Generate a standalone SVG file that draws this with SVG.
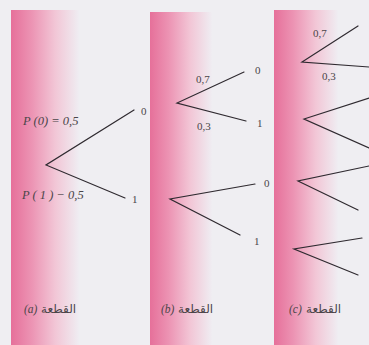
<svg xmlns="http://www.w3.org/2000/svg" width="369" height="345" viewBox="0 0 369 345">
  <defs>
    <linearGradient id="pink" x1="0" y1="0" x2="1" y2="0">
      <stop offset="0" stop-color="#e6709a"/>
      <stop offset="0.3" stop-color="#ec93b3"/>
      <stop offset="0.65" stop-color="#f2c6d6"/>
      <stop offset="1" stop-color="#efedf2"/>
    </linearGradient>
    <style>
      .strip { fill: url(#pink); }
      .br { stroke: #2f2a30; stroke-width: 1.2; fill: none; stroke-linecap: round; }
      .p { font-family: "Liberation Serif", serif; font-style: italic; font-size: 12.5px; fill: #4a4548; }
      .n { font-family: "Liberation Serif", serif; font-size: 11px; fill: #4a4548; }
      .cap { font-family: "Liberation Serif", serif; font-style: italic; font-size: 11.5px; fill: #4a4548; }
      .ar { font-family: "DejaVu Sans", "Noto Sans", sans-serif; font-size: 12px; fill: #4a4548; }
    </style>
  </defs>
  <rect width="369" height="345" fill="#efeef2"/>
  <rect class="strip" x="11" y="10" width="68" height="335"/>
  <rect class="strip" x="150" y="12" width="62" height="333"/>
  <rect class="strip" x="274" y="10" width="64" height="335"/>

  <g id="connectors">
    <!-- tree a -->
    <path class="br" d="M134 110 L46 165 L125 198"/>
    <!-- tree b -->
    <path class="br" d="M244 72 L177 103 L246 121"/>
    <path class="br" d="M255 184 L170 199 L240 235"/>
    <!-- tree c -->
    <path class="br" d="M358 26 L302 62 L369 67"/>
    <path class="br" d="M369 98 L304 119 L369 148"/>
    <path class="br" d="M369 166 L298 181 L358 210"/>
    <path class="br" d="M362 238 L294 249 L358 275"/>
  </g>

  <g id="tree-a">
    <text class="p" x="23" y="125">P (0) = 0,5</text>
    <text class="p" x="22" y="199">P ( 1 ) − 0,5</text>
    <text class="n" x="141" y="115">0</text>
    <text class="n" x="132" y="203">1</text>
  </g>
  <g id="tree-b">
    <text class="n" x="196" y="83">0,7</text>
    <text class="n" x="197" y="130">0,3</text>
    <text class="n" x="255" y="74">0</text>
    <text class="n" x="257" y="127">1</text>
    <text class="n" x="264" y="187">0</text>
    <text class="n" x="254" y="245">1</text>
  </g>
  <g id="tree-c">
    <text class="n" x="313" y="37">0,7</text>
    <text class="n" x="322" y="80">0,3</text>
  </g>
  <g id="caption-a">
    <text class="cap" x="24" y="313">(a)</text>
    <text class="ar" x="41" y="313">القطعة</text>
  </g>
  <g id="caption-b">
    <text class="cap" x="161" y="313">(b)</text>
    <text class="ar" x="178" y="313">القطعة</text>
  </g>
  <g id="caption-c">
    <text class="cap" x="289" y="313">(c)</text>
    <text class="ar" x="306" y="313">القطعة</text>
  </g>
</svg>
